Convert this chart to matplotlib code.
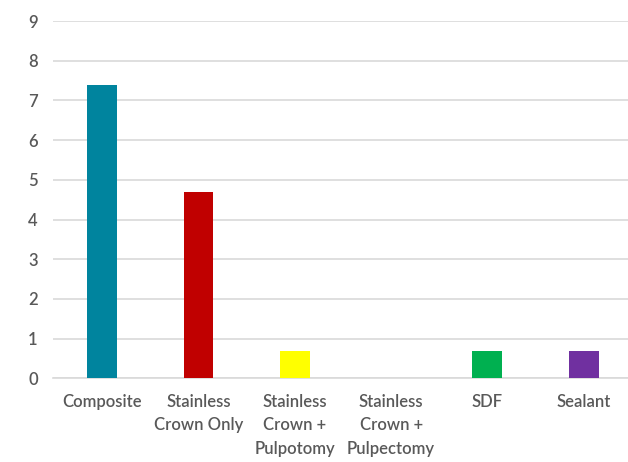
import matplotlib
matplotlib.use("Agg")
import matplotlib.pyplot as plt

categories = ["Composite", "Stainless\nCrown Only", "Stainless\nCrown +\nPulpotomy",
              "Stainless\nCrown +\nPulpectomy", "SDF", "Sealant"]
values = [7.4, 4.7, 0.68, 0, 0.68, 0.68]
colors = ["#00849E", "#C00000", "#FFFF00", "#00B0F0", "#00B050", "#7030A0"]
yticks = list(range(0, 10))

plt.rcParams['font.family'] = ['Lato', 'DejaVu Sans']

fig = plt.figure(figsize=(6.28, 4.62), dpi=100)
ax = fig.add_axes([53/628, (462-378.3)/462, (628-53)/628, (378.3-21)/462])
x = list(range(len(categories)))
ax.bar(x, values, width=0.31, color=colors, zorder=3)
ax.set_xlim(-0.51, 5.46)
ax.set_ylim(0, 9)
ax.set_yticks(yticks)
ax.grid(axis='y', color='#d9d9d9', linewidth=1.2, zorder=0)
for s in ['top', 'right', 'left']:
    ax.spines[s].set_visible(False)
ax.spines['bottom'].set_color('#d9d9d9')
ax.spines['bottom'].set_linewidth(1.2)
ax.tick_params(axis='both', length=0, colors='#595959', labelsize=12)
ax.tick_params(axis='y', pad=11)
ax.tick_params(axis='x', pad=11)
ax.set_xticks(x)
ax.set_xticklabels(categories, linespacing=1.6)
for lab in ax.get_xticklabels() + ax.get_yticklabels():
    lab.set_fontweight('semibold')
fig.savefig("out.png", dpi=100)
